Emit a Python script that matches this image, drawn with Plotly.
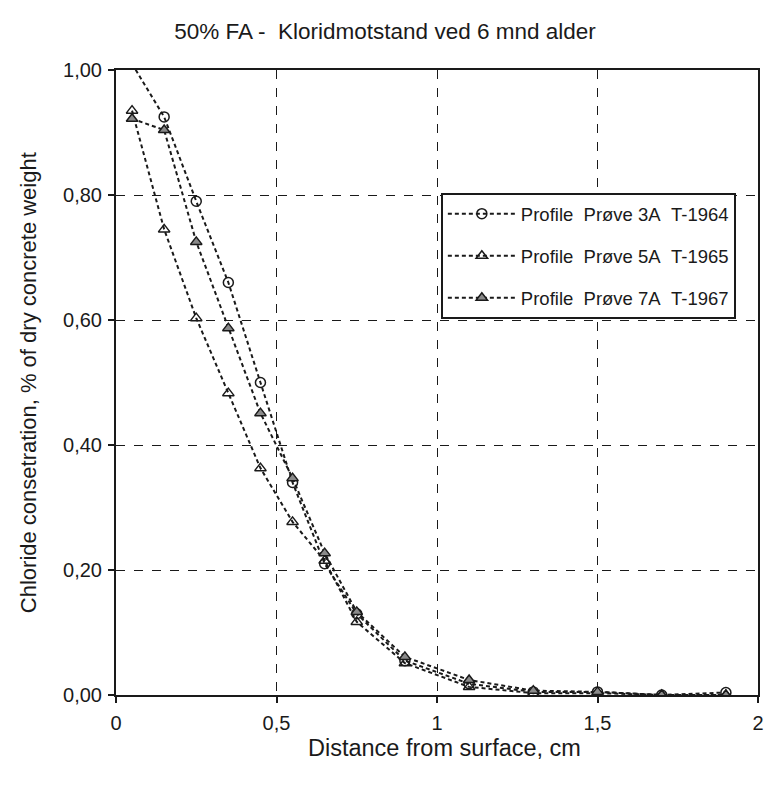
import plotly.graph_objects as go

# Depth of each slice midpoint (cm)
depth_cm = [0.05, 0.15, 0.25, 0.35, 0.45, 0.55, 0.65, 0.75, 0.9, 1.1, 1.3, 1.5, 1.7, 1.9]

# Chloride content, % of dry concrete weight
chloride_3a = [1.01, 0.925, 0.79, 0.66, 0.50, 0.34, 0.21, 0.13, 0.055, 0.018, 0.005, 0.005, 0.0, 0.004]
chloride_5a = [0.935, 0.745, 0.603, 0.483, 0.363, 0.277, 0.215, 0.117, 0.051, 0.013, 0.003, 0.003, 0.0, 0.0]
chloride_7a = [0.922, 0.904, 0.725, 0.587, 0.451, 0.347, 0.227, 0.133, 0.061, 0.024, 0.007, 0.005, 0.0, 0.0]

series_names = [
    "Profile\u00a0\u00a0Prøve\u00a03A\u00a0\u00a0T-1964",
    "Profile\u00a0\u00a0Prøve\u00a05A\u00a0\u00a0T-1965",
    "Profile\u00a0\u00a0Prøve\u00a07A\u00a0\u00a0T-1967",
]

x_ticks = [0, 0.5, 1, 1.5, 2]
y_ticks = [0.0, 0.2, 0.4, 0.6, 0.8, 1.0]

FONT = "Liberation Sans, Arial, sans-serif"
INK = "#1a1a1a"

fig = go.Figure()

styles = [
    dict(symbol="circle-open", color=INK),
    dict(symbol="triangle-up-open", color=INK),
    dict(symbol="triangle-up", color="#8a8a8a"),
]

for i, (name, vals, st) in enumerate(zip(series_names, [chloride_3a, chloride_5a, chloride_7a], styles)):
    fig.add_trace(go.Scatter(
        x=depth_cm, y=vals, name=name, mode="lines+markers",
        legendgroup=f"g{i}",
        line=dict(color=INK, width=2, dash="4px,3px"),
        marker=dict(symbol=st["symbol"], size=10, color=st["color"],
                    line=dict(color=INK, width=1.5)),
    ))

axis_common = dict(
    showline=True, linecolor=INK, linewidth=2, mirror=True,
    showgrid=True, gridcolor=INK, gridwidth=1.3, griddash="dash",
    ticks="outside", ticklen=6, tickcolor=INK, tickwidth=1.5,
    zeroline=False,
    tickfont=dict(family=FONT, size=20, color=INK),
)

fig.update_xaxes(range=[0, 2], tickvals=x_ticks, ticklabelstandoff=3, **axis_common)
fig.update_yaxes(range=[0, 1.0], tickvals=y_ticks, tickformat=".2f", ticklabelstandoff=2, **axis_common)

fig.add_annotation(
    text="Chloride consetration, % of dry concrete weight",
    xref="paper", yref="paper", x=-0.136, y=0.5, textangle=-90,
    showarrow=False, xanchor="center", yanchor="middle",
    font=dict(family=FONT, size=22, color=INK),
)
fig.add_annotation(
    text="Distance from surface, cm",
    xref="paper", yref="paper", x=0.512, y=-0.085,
    showarrow=False, xanchor="center", yanchor="middle",
    font=dict(family=FONT, size=23.5, color=INK),
)

fig.update_layout(
    width=770, height=786,
    margin=dict(l=116, r=6, t=70, b=91),
    paper_bgcolor="white", plot_bgcolor="white",
    separators=",.",
    title=dict(text="50% FA -\u00a0\u00a0Kloridmotstand ved 6 mnd alder",
               x=0.5, xanchor="center", y=1 - 31 / 786, yanchor="middle",
               font=dict(family=FONT, size=22.5, color=INK)),
    legend=dict(x=0.506, y=0.803, xanchor="left", yanchor="top",
                bordercolor=INK, borderwidth=2, bgcolor="white",
                font=dict(family=FONT, size=18.5, color=INK),
                tracegroupgap=15, itemwidth=68),
    showlegend=True,
)

fig.write_html("out.html")
